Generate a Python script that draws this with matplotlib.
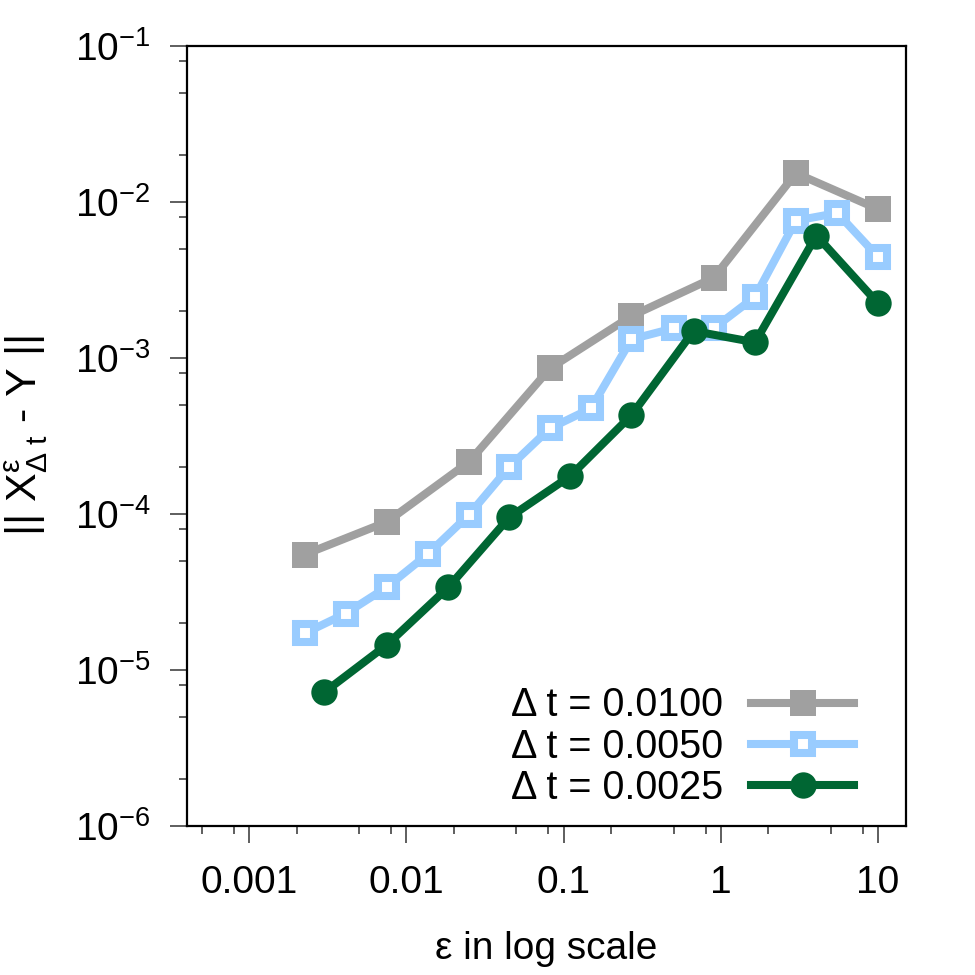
import matplotlib
matplotlib.use("Agg")
from matplotlib import pyplot as plt
from matplotlib import ticker
import numpy as np

plt.rcParams['font.family'] = ['Liberation Sans', 'DejaVu Sans']
plt.rcParams['mathtext.fontset'] = 'custom'
plt.rcParams['mathtext.rm'] = 'Liberation Sans'
plt.rcParams['mathtext.it'] = 'Liberation Sans'
plt.rcParams['mathtext.bf'] = 'Liberation Sans'

# data
eps_01 = [0.00225, 0.0075, 0.025, 0.082, 0.27, 0.9, 3.0, 10.0]
err_01 = [5.5e-5, 8.9e-5, 2.16e-4, 8.6e-4, 1.86e-3, 3.27e-3, 1.53e-2, 9.0e-3]

eps_005 = [0.00225, 0.0041, 0.0075, 0.0137, 0.025, 0.045, 0.082, 0.149,
           0.27, 0.5, 0.9, 1.65, 3.0, 5.5, 10.0]
err_005 = [1.72e-5, 2.3e-5, 3.4e-5, 5.55e-5, 9.9e-5, 2.0e-4, 3.55e-4, 4.75e-4,
           1.32e-3, 1.55e-3, 1.55e-3, 2.47e-3, 7.6e-3, 8.5e-3, 4.45e-3]

eps_0025 = [0.003, 0.0075, 0.0185, 0.045, 0.11, 0.27, 0.67, 1.65, 4.05, 10.0]
err_0025 = [7.2e-6, 1.45e-5, 3.4e-5, 9.5e-5, 1.75e-4, 4.3e-4, 1.49e-3, 1.26e-3,
            6.1e-3, 2.24e-3]

labels = ['Δ t = 0.0100', 'Δ t = 0.0050', 'Δ t = 0.0025']
x_ticks = [0.001, 0.01, 0.1, 1, 10]
x_ticklabels = ['0.001', '0.01', '0.1', '1', '10']

fig = plt.figure(figsize=(9.75, 9.75), dpi=100)
ax = fig.add_axes([0.1915, 0.1528, 0.7375, 0.8])

ax.plot(eps_01, err_01, color='#a0a0a0', lw=5.8, marker='s', ms=18.5,
        mew=0, label=labels[0])
ax.plot(eps_005, err_005, color='#99ccff', lw=5.8, marker='s', ms=13.6,
        mew=5.8, mfc='white', mec='#99ccff', label=labels[1])
ax.plot(eps_0025, err_0025, color='#006633', lw=5.8, marker='o', ms=19,
        mew=0, label=labels[2])

ax.set_xscale('log')
ax.set_yscale('log')
ax.set_xlim(0.0004, 15)
ax.set_ylim(1e-6, 1e-1)

ax.set_xticks(x_ticks)
ax.set_xticklabels(x_ticklabels)
ax.xaxis.set_minor_locator(ticker.LogLocator(base=10, subs=[2, 5, 8], numticks=20))
ax.yaxis.set_minor_locator(ticker.LogLocator(base=10, subs=[2, 5, 8], numticks=20))
ax.xaxis.set_minor_formatter(ticker.NullFormatter())
ax.yaxis.set_minor_formatter(ticker.NullFormatter())
ax.yaxis.set_major_locator(ticker.LogLocator(base=10, numticks=10))

ax.tick_params(which='major', length=12, width=1.1, color='#333333',
               labelsize=28, direction='out')
ax.tick_params(which='minor', length=6, width=1.1, color='#333333', direction='out')
ax.tick_params(axis='x', pad=16)
ax.tick_params(axis='y', pad=14)
for s in ax.spines.values():
    s.set_linewidth(1.6)

ax.set_xlabel('ε in log scale', fontsize=28, labelpad=22)
ax.set_ylabel(r'|| X$^{ε}_{Δ\ t}$ - Y ||', fontsize=31, labelpad=18)

ax.legend(loc='lower right', bbox_to_anchor=(0.972, -0.016), frameon=False,
          markerfirst=False, fontsize=28.5, handlelength=2.6, labelspacing=0.08,
          handletextpad=0.7, borderpad=0.3)

fig.savefig('out.png', dpi=100)
